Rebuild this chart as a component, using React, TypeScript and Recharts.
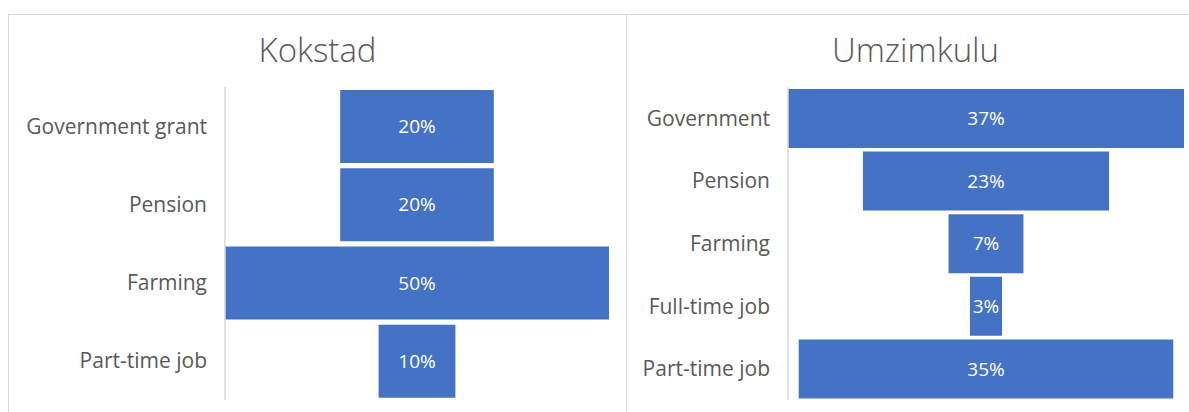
import React from 'react';
import { BarChart, Bar, XAxis, YAxis, LabelList } from 'recharts';

const kokstadNames = ['Government grant', 'Pension', 'Farming', 'Part-time job'];
const kokstadValues = [20, 20, 50, 10];

const umzimkuluNames = ['Government', 'Pension', 'Farming', 'Full-time job', 'Part-time job'];
const umzimkuluValues = [37, 23, 7, 3, 35];

const BLUE = '#4472c4';
const GREY = '#595959';
const BORDER = '#d9d9d9';
const FONT = '"Open Sans", Lato, sans-serif';

function buildRows(names: string[], values: number[]) {
  const max = Math.max(...values);
  return names.map((name, i) => ({
    name,
    value: values[i],
    pad: (max - values[i]) / 2,
  }));
}

interface FunnelPanelProps {
  title: string;
  names: string[];
  values: number[];
  left: number;
  width: number;
  axisWidth: number;
  marginRight: number;
  barSize: number;
}

function FunnelPanel({ title, names, values, left, width, axisWidth, marginRight, barSize }: FunnelPanelProps) {
  const rows = buildRows(names, values);
  const max = Math.max(...values);
  return (
    <div
      style={{
        position: 'absolute',
        left,
        top: 14,
        width,
        height: 420,
        border: `1px solid ${BORDER}`,
        boxSizing: 'border-box',
        background: '#fff',
      }}
    >
      <div
        style={{
          position: 'absolute',
          left: 0,
          right: 0,
          top: 15,
          textAlign: 'center',
          fontFamily: FONT,
          fontSize: 33,
          fontWeight: 300,
          color: GREY,
          lineHeight: '40px',
        }}
      >
        {title}
      </div>
      <div style={{ position: 'absolute', left: 0, top: 0 }}>
        <BarChart
          width={width - 2}
          height={400}
          data={rows}
          layout="vertical"
          margin={{ top: 72, right: marginRight, bottom: 15, left: 0 }}
          barCategoryGap={0}
        >
          <XAxis type="number" hide domain={[0, max]} />
          <YAxis
            type="category"
            dataKey="name"
            width={axisWidth}
            axisLine={{ stroke: BORDER, strokeWidth: 1.5 }}
            tickLine={false}
            tickMargin={12}
            tick={{ fill: GREY, fontSize: 21, fontFamily: FONT }}
          />
          <Bar dataKey="pad" stackId="f" fill="transparent" isAnimationActive={false} barSize={barSize} />
          <Bar dataKey="value" stackId="f" fill={BLUE} isAnimationActive={false} barSize={barSize}>
            <LabelList
              dataKey="value"
              position="center"
              formatter={(v: any) => `${v}%`}
              style={{ fill: '#fff', fontSize: 19, fontFamily: FONT }}
            />
          </Bar>
        </BarChart>
      </div>
    </div>
  );
}

export default function App() {
  return (
    <div
      style={{
        position: 'absolute',
        left: 0,
        top: 0,
        width: 1189,
        height: 412,
        overflow: 'hidden',
        background: '#fff',
      }}
    >
      <FunnelPanel
        title="Kokstad"
        names={kokstadNames}
        values={kokstadValues}
        left={8}
        width={619}
        axisWidth={216}
        marginRight={17}
        barSize={73}
      />
      <FunnelPanel
        title="Umzimkulu"
        names={umzimkuluNames}
        values={umzimkuluValues}
        left={626}
        width={579}
        axisWidth={161}
        marginRight={20}
        barSize={59}
      />
    </div>
  );
}
